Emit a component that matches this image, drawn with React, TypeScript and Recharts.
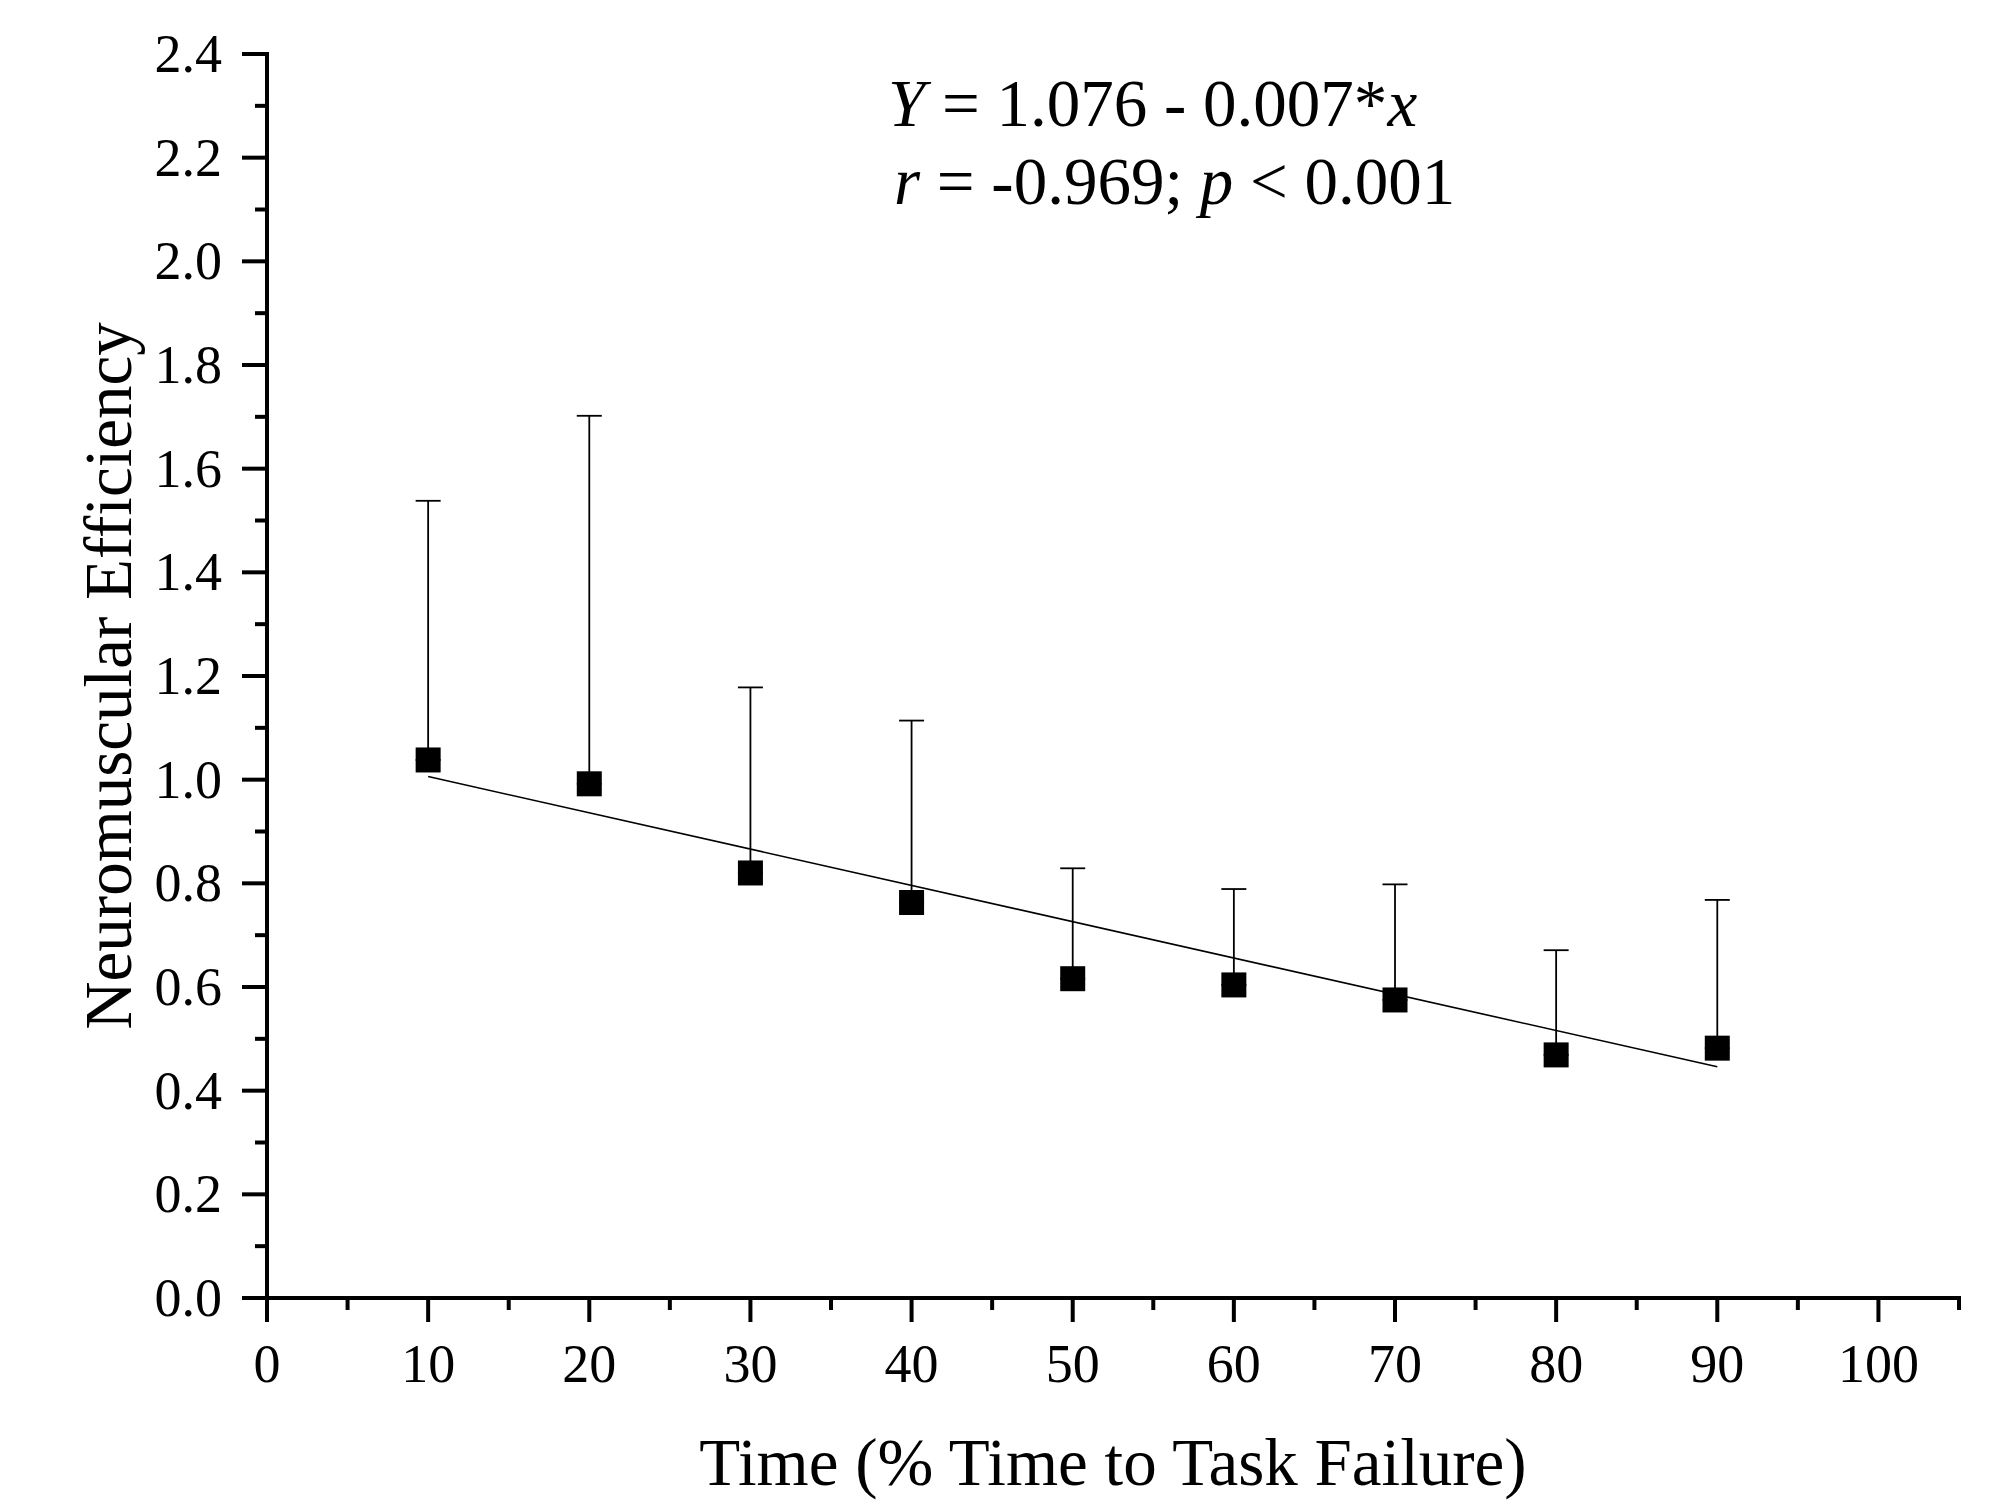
import React from 'react';
import { ComposedChart, Scatter, Line, XAxis, YAxis, ErrorBar } from 'recharts';

// ---- data ----
const timePoints = [10, 20, 30, 40, 50, 60, 70, 80, 90];
const neMeans = [1.038, 0.992, 0.820, 0.763, 0.616, 0.604, 0.575, 0.469, 0.482];
const neSD = [0.500, 0.710, 0.358, 0.351, 0.213, 0.185, 0.223, 0.202, 0.286];

const fitX = [10, 90];
const fitY = [1.006, 0.446];

const xTicks = [0, 5, 10, 15, 20, 25, 30, 35, 40, 45, 50, 55, 60, 65, 70, 75, 80, 85, 90, 95, 100, 105];
const xLabelled = [0, 10, 20, 30, 40, 50, 60, 70, 80, 90, 100];
const yTicks = [0, 0.1, 0.2, 0.3, 0.4, 0.5, 0.6, 0.7, 0.8, 0.9, 1.0, 1.1, 1.2, 1.3, 1.4, 1.5, 1.6, 1.7, 1.8, 1.9, 2.0, 2.1, 2.2, 2.3, 2.4];

const xTitle = 'Time (% Time to Task Failure)';
const yTitle = 'Neuromuscular Efficiency';

const points = timePoints.map((x, i) => ({ x, y: neMeans[i], err: [0, neSD[i]] }));
const fitData = fitX.map((x, i) => ({ x, y: fitY[i] }));

const FONT = '"Liberation Serif", "Times New Roman", serif';

const XTick = (props: any) => {
  const { x, y, payload } = props;
  const v = payload.value;
  const major = xLabelled.includes(v);
  return (
    <g>
      <line x1={x} x2={x} y1={y} y2={y + (major ? 24 : 12)} stroke="#000" strokeWidth={4} />
      {major && (
        <text x={x} y={y + 84} textAnchor="middle" fontSize={54} fontFamily={FONT} fill="#000">
          {v}
        </text>
      )}
    </g>
  );
};

const YTick = (props: any) => {
  const { x, y, payload } = props;
  const v = payload.value as number;
  const major = Math.round(v * 10) % 2 === 0;
  return (
    <g>
      <line x1={x - (major ? 25 : 12)} x2={x} y1={y} y2={y} stroke="#000" strokeWidth={4} />
      {major && (
        <text x={x - 45} y={y + 18} textAnchor="end" fontSize={54} fontFamily={FONT} fill="#000">
          {v.toFixed(1)}
        </text>
      )}
    </g>
  );
};

const Square = (props: any) => {
  const { cx, cy } = props;
  if (cx == null || cy == null) return null;
  return <rect x={cx - 12.5} y={cy - 12.5} width={25} height={25} fill="#000" />;
};

export default function App() {
  return (
    <div style={{ position: 'absolute', left: 0, top: 0, width: 1992, height: 1502, background: '#fff' }}>
      <ComposedChart
        width={1992}
        height={1502}
        margin={{ top: 54, right: 33, bottom: 0, left: 0 }}
        style={{ background: '#fff' }}
      >
        <XAxis
          type="number"
          dataKey="x"
          domain={[0, 105]}
          ticks={xTicks}
          interval={0}
          allowDataOverflow
          height={204}
          tickSize={0}
          tickMargin={0}
          tickLine={false}
          tick={<XTick />}
          axisLine={{ stroke: '#000', strokeWidth: 4, strokeLinecap: 'square' }}
        />
        <YAxis
          type="number"
          dataKey="y"
          domain={[0, 2.4]}
          ticks={yTicks}
          interval={0}
          allowDataOverflow
          width={267}
          tickSize={0}
          tickMargin={0}
          tickLine={false}
          tick={<YTick />}
          axisLine={{ stroke: '#000', strokeWidth: 4, strokeLinecap: 'square' }}
        />
        <Line
          data={fitData}
          dataKey="y"
          type="linear"
          stroke="#000"
          strokeWidth={1.6}
          dot={false}
          activeDot={false}
          isAnimationActive={false}
        />
        <Scatter data={points} dataKey="y" shape={<Square />} isAnimationActive={false}>
          <ErrorBar dataKey="err" direction="y" width={12.5} stroke="#000" strokeWidth={1.8} isAnimationActive={false} />
        </Scatter>
      </ComposedChart>
      <svg
        width={1992}
        height={1502}
        style={{ position: 'absolute', left: 0, top: 0, pointerEvents: 'none' }}
      >
        <text x={888} y={126} fontSize={67} fontFamily={FONT} fill="#000">
          <tspan fontStyle="italic">Y</tspan>
          <tspan> = 1.076 - 0.007*</tspan>
          <tspan fontStyle="italic">x</tspan>
        </text>
        <text x={894} y={204} fontSize={67} fontFamily={FONT} fill="#000">
          <tspan fontStyle="italic">r</tspan>
          <tspan> = -0.969; </tspan>
          <tspan fontStyle="italic">p</tspan>
          <tspan> &lt; 0.001</tspan>
        </text>
        <text x={1113} y={1485} textAnchor="middle" fontSize={67} fontFamily={FONT} fill="#000">
          {xTitle}
        </text>
        <text
          x={131}
          y={676}
          textAnchor="middle"
          fontSize={67}
          fontFamily={FONT}
          fill="#000"
          transform="rotate(-90, 131, 676)"
        >
          {yTitle}
        </text>
      </svg>
    </div>
  );
}
